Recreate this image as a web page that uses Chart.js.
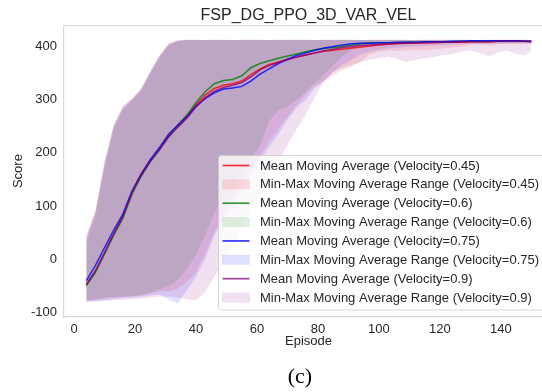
<!DOCTYPE html>
<html><head><meta charset="utf-8">
<script src="https://cdn.jsdelivr.net/npm/chart.js@4"></script>
<style>
html,body{margin:0;padding:0;background:#fff;overflow:hidden;width:542px;height:392px;}
#wrap{position:relative;width:553px;height:392px;}
#caption{position:absolute;left:250px;width:100px;top:365px;line-height:22px;text-align:center;font-family:"Liberation Serif","Times New Roman",serif;font-size:22px;color:#000;}
</style></head><body>
<div id="wrap"><canvas id="c" width="553" height="392"></canvas><div id="caption">(c)</div></div>
<script>
const episodes = [4,7,10,13,16,19,22,25,28,31,34,37,40,43,46,49,52,55,58,61,64,67,70,73,76,79,82,85,88,91,94,97,100,103,106,109,112,115,118,121,124,127,130,133,136,139,142,145,148,150];
const velocities = ['0.45','0.6','0.75','0.9'];
const xTicks = [0,20,40,60,80,100,120,140];
const yTicks = [-100,0,100,200,300,400];

const meanV045 = [-48,-22,12,48,80,127,160,186,207,232,250,268,291,309,321,327,330,335,347,358,366,371,376,380,384,388,391,393,395,397,399,401,403,404,405,406,406,407,407,408,408,408,409,409,409,410,410,410,410,409];
const meanV06  = [-50,-25,10,45,77,122,156,183,206,230,252,271,295,315,330,336,338,345,360,368,373,378,382,386,390,394,396,398,400,403,405,407,407,407,407,408,408,408,409,409,409,410,410,410,410,410,411,411,410,410];
const meanV075 = [-40,-12,22,55,85,128,160,187,210,235,252,268,288,302,313,320,322,325,335,348,358,368,376,383,388,393,397,400,403,405,406,406,407,407,408,408,408,409,409,409,410,410,411,411,411,411,411,411,410,410];
const meanV09  = [-47,-22,12,48,80,126,158,184,206,230,248,265,286,304,316,323,327,332,343,356,364,370,375,380,384,388,392,395,398,400,402,403,404,405,406,406,407,407,408,408,408,409,409,409,409,410,410,410,410,409];

const maxV045 = [45,92,185,252,287,302,322,355,384,406,412,413,413,412,413,413,412,413,413,413,412,413,413,413,413,412,413,413,413,413,412,413,413,413,413,413,412,413,413,413,413,413,413,412,413,413,413,413,413,412];
const maxV06  = [30,80,170,244,280,298,316,348,378,401,410,412,412,412,412,412,412,412,412,412,412,412,412,412,412,412,412,412,412,412,412,412,412,412,412,412,412,412,412,412,412,412,412,412,412,412,412,412,412,412];
const maxV075 = [38,88,180,250,285,300,320,352,382,404,411,412,412,412,412,412,412,412,412,412,412,412,412,412,412,412,412,412,412,412,412,412,412,412,412,412,412,412,412,412,412,412,412,412,412,412,412,412,412,412];
const maxV09  = [42,90,182,252,288,302,320,352,381,404,411,412,412,412,412,412,412,412,412,412,412,412,412,412,412,412,412,412,412,412,412,412,412,412,412,412,412,412,412,412,412,412,412,412,412,412,412,412,412,412];

const minV045 = [-78,-76,-74,-72,-71,-70,-68,-65,-60,-60,-55,-42,-25,10,50,80,110,140,168,195,222,245,268,290,310,326,335,345,356,362,372,385,390,392,392,393,394,393,395,396,398,400,403,404,402,404,405,404,405,405];
const minV06  = [-77,-75,-72,-71,-70,-69,-67,-62,-57,-50,-38,-18,8,45,88,115,135,163,190,215,260,280,287,300,315,332,348,365,382,394,397,400,402,403,404,404,405,405,406,406,406,407,407,406,407,407,407,406,407,407];
const minV075 = [-80,-79,-77,-75,-73,-72,-70,-68,-66,-75,-83,-58,-33,0,45,75,100,128,155,185,212,235,262,285,300,322,335,352,365,375,385,390,394,396,398,399,400,401,402,403,404,404,405,405,405,406,405,406,406,406];
const minV09  = [-80,-79,-78,-77,-76,-75,-74,-72,-70,-70,-72,-75,-77,-62,-33,-5,25,60,95,125,155,185,215,245,272,305,335,352,360,365,370,375,378,381,376,371,375,378,380,384,386,390,393,388,381,388,393,386,384,393];

const lineColors = ['rgba(255,0,0,0.8)','rgba(0,128,0,0.8)','rgba(0,0,255,0.8)','rgba(128,0,128,0.75)'];
const bandColors = ['rgba(255,0,0,0.12)','rgba(0,128,0,0.12)','rgba(0,0,255,0.12)','rgba(128,0,128,0.12)'];

const means = [meanV045, meanV06, meanV075, meanV09];
const mins = [minV045, minV06, minV075, minV09];
const maxs = [maxV045, maxV06, maxV075, maxV09];
const pts = arr => arr.map((y, i) => ({x: episodes[i], y}));

const datasets = [];
for (let k = 3; k >= 0; k--) {
  datasets.push({label: 'Mean Moving Average (Velocity=' + velocities[k] + ')', data: pts(means[k]),
    borderColor: lineColors[k], borderWidth: 1.5, pointRadius: 0, fill: false, tension: 0});
}
for (let k = 3; k >= 0; k--) {
  const idx = datasets.length;
  datasets.push({label: 'min ' + velocities[k], data: pts(mins[k]), borderWidth: 0, borderColor: 'rgba(0,0,0,0)', pointRadius: 0, fill: false});
  datasets.push({label: 'Min-Max Moving Average Range (Velocity=' + velocities[k] + ')', data: pts(maxs[k]), borderWidth: 0, borderColor: 'rgba(0,0,0,0)',
    pointRadius: 0, backgroundColor: bandColors[k], fill: idx});
}

const legendEntries = [];
velocities.forEach((v, k) => {
  legendEntries.push({kind: 'line', color: lineColors[k], text: 'Mean Moving Average (Velocity=' + v + ')'});
  legendEntries.push({kind: 'patch', color: bandColors[k], text: 'Min-Max Moving Average Range (Velocity=' + v + ')'});
});

const spineColor = '#d9d9d9';
const textColor = '#262626';
Chart.defaults.font.family = "'Liberation Sans', Arial, sans-serif";

const framePlugin = {
  id: 'frame',
  afterDatasetsDraw(chart) {
    const {ctx, chartArea: a} = chart;
    ctx.save();
    ctx.strokeStyle = spineColor; ctx.lineWidth = 1.2;
    ctx.beginPath(); ctx.moveTo(a.left, a.top + 0.5); ctx.lineTo(a.right, a.top + 0.5); ctx.stroke();
    ctx.restore();
  }
};

const legendPlugin = {
  id: 'boxLegend',
  afterDraw(chart) {
    const ctx = chart.ctx;
    const x0 = 218.5, y0 = 155.5, w = 330, h = 154.5, r = 3;
    ctx.save();
    ctx.beginPath();
    ctx.moveTo(x0 + r, y0); ctx.lineTo(x0 + w - r, y0); ctx.arcTo(x0 + w, y0, x0 + w, y0 + r, r);
    ctx.lineTo(x0 + w, y0 + h - r); ctx.arcTo(x0 + w, y0 + h, x0 + w - r, y0 + h, r);
    ctx.lineTo(x0 + r, y0 + h); ctx.arcTo(x0, y0 + h, x0, y0 + h - r, r);
    ctx.lineTo(x0, y0 + r); ctx.arcTo(x0, y0, x0 + r, y0, r); ctx.closePath();
    ctx.fillStyle = 'rgba(255,255,255,0.8)'; ctx.fill();
    ctx.strokeStyle = 'rgba(204,204,204,0.8)'; ctx.lineWidth = 1; ctx.stroke();
    ctx.font = "13px 'Liberation Sans', Arial, sans-serif";
    ctx.textBaseline = 'middle'; ctx.textAlign = 'left';
    legendEntries.forEach((e, i) => {
      const y = 165.5 + i * 18.86;
      if (e.kind === 'line') {
        ctx.strokeStyle = e.color; ctx.lineWidth = 1.7;
        ctx.beginPath(); ctx.moveTo(222.5, y); ctx.lineTo(249.5, y); ctx.stroke();
      } else {
        ctx.fillStyle = e.color; ctx.fillRect(222, y - 5, 28, 10);
      }
      ctx.fillStyle = textColor;
      ctx.fillText(e.text, 260, y + 0.5);
    });
    ctx.restore();
  }
};

new Chart(document.getElementById('c'), {
  type: 'line',
  data: {datasets},
  options: {
    responsive: false, animation: false, devicePixelRatio: 1,
    layout: {padding: {left: 0, right: 0, top: 0, bottom: 35}},
    plugins: {
      legend: {display: false}, tooltip: {enabled: false},
      title: {display: true, text: 'FSP_DG_PPO_3D_VAR_VEL', fullSize: false, color: textColor,
        font: {size: 16, weight: 'normal', lineHeight: 1.2}, padding: {top: 6, bottom: 0}}
    },
    scales: {
      x: {type: 'linear', min: -3.3, max: 157.1,
        afterBuildTicks: s => { s.ticks = xTicks.map(v => ({value: v})); },
        afterFit: s => { s.height = 40; },
        grid: {display: false, drawTicks: false},
        border: {display: true, color: spineColor, width: 1.2},
        ticks: {color: textColor, font: {size: 13}, padding: 5, maxRotation: 0, callback: v => v},
        title: {display: true, text: 'Episode', color: textColor, font: {size: 13}, padding: {top: 0, bottom: 8}}
      },
      y: {type: 'linear', min: -108.5, max: 440,
        afterBuildTicks: s => { s.ticks = yTicks.map(v => ({value: v})); },
        afterFit: s => { s.width = 64; },
        grid: {display: false, drawTicks: false},
        border: {display: true, color: spineColor, width: 1.2},
        ticks: {color: textColor, font: {size: 13}, padding: 7, callback: v => v},
        title: {display: true, text: 'Score', color: textColor, font: {size: 13}, padding: {top: 11, bottom: 0}}
      }
    }
  },
  plugins: [framePlugin, legendPlugin]
});
</script>
</body></html>
